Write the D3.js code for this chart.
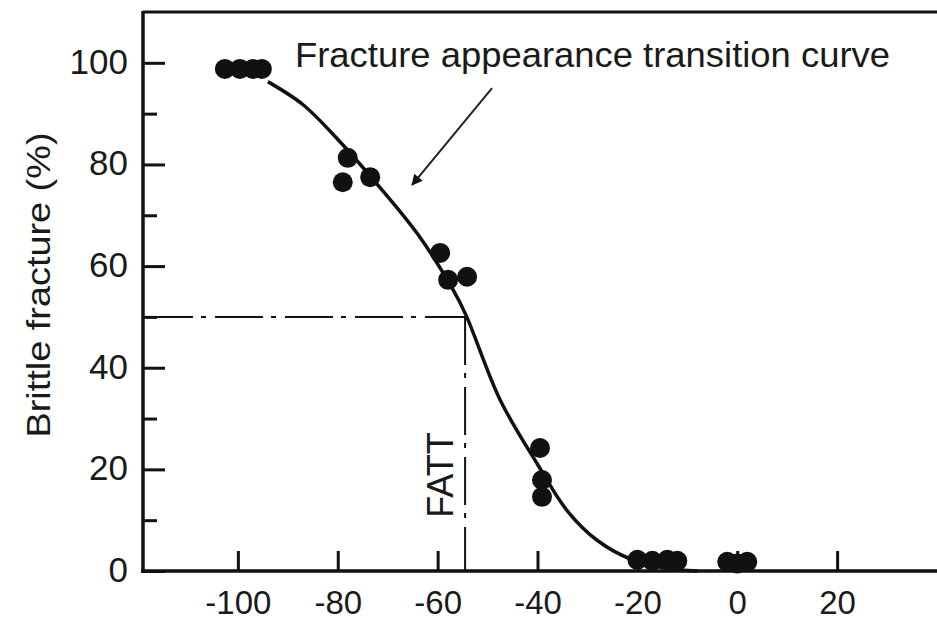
<!DOCTYPE html>
<html>
<head>
<meta charset="utf-8">
<script src="https://cdn.jsdelivr.net/npm/d3@7"></script>
<style>
  body { margin: 0; background: #fff; }
  svg { display: block; }
  text { font-family: "Liberation Sans", Arial, sans-serif; fill: #1a1a1a; }
</style>
</head>
<body>
<script>
// measured points, temperature (C) vs brittle fracture (%)
var tempPts    = [-102.6, -99.6, -97.0, -95.2, -78.0, -79.0, -73.5, -59.5, -57.9, -54.1, -39.5, -39.1, -39.1, -20.0, -17.0, -14.0, -12.0, -2.0, 0.0, 2.0];
var brittlePts = [98.8, 98.8, 98.8, 98.8, 81.3, 76.5, 77.5, 62.6, 57.3, 57.9, 24.2, 17.9, 14.6, 2.2, 2.0, 2.2, 2.0, 1.8, 1.5, 1.8];

// fitted transition curve
var curveTemp    = [-94, -87, -81, -72, -64, -57, -54.3, -47.5, -40, -34, -28, -21, -14, -8];
var curveBrittle = [96.3, 91.8, 86.0, 76.0, 66.3, 55.5, 50.3, 33.7, 21, 11.8, 6, 2.2, 0.5, 0];

var xTicks = [-100, -80, -60, -40, -20, 0, 20];
var yTicks = [0, 20, 40, 60, 80, 100];
var yMinor = [10, 30, 50, 70, 90];

var fatt = -54.5;
var fattLevel = 50;
var arrowFrom = [-49.1, 95.0];
var arrowTo   = [-65.1, 76.0];

var W = 937, H = 620;
var svg = d3.select("body").append("svg").attr("width", W).attr("height", H);

var x = d3.scaleLinear().domain([-119, 40]).range([143, 937]);
var y = d3.scaleLinear().domain([0, 110]).range([571, 12]);

// arrow head
svg.append("defs").append("marker")
    .attr("id", "head")
    .attr("viewBox", "0 0 10 10")
    .attr("refX", 9).attr("refY", 5)
    .attr("markerWidth", 17).attr("markerHeight", 11)
    .attr("markerUnits", "userSpaceOnUse")
    .attr("orient", "auto")
  .append("path")
    .attr("d", "M0,0 L10,5 L0,10 Z")
    .attr("fill", "#111");

// frame top
svg.append("line")
    .attr("x1", 143).attr("x2", W)
    .attr("y1", 12).attr("y2", 12)
    .attr("stroke", "#111").attr("stroke-width", 3);

// y axis, ticks pointing inward
var yAxis = svg.append("g")
    .attr("transform", "translate(143,0)")
    .call(d3.axisLeft(y).tickValues(yTicks).tickSizeInner(-22).tickSizeOuter(0).tickPadding(15).tickFormat(d3.format("d")));
yAxis.select(".domain").remove();
yAxis.selectAll(".tick line").attr("stroke", "#111").attr("stroke-width", 3);
yAxis.selectAll(".tick text").attr("font-size", 35).attr("dy", "0.3em").style("font-family", null);

var yMin = svg.append("g")
    .attr("transform", "translate(143,0)")
    .call(d3.axisLeft(y).tickValues(yMinor).tickSizeInner(-14).tickSizeOuter(0).tickFormat(""));
yMin.select(".domain").remove();
yMin.selectAll(".tick line").attr("stroke", "#111").attr("stroke-width", 3);

// x axis
var xAxis = svg.append("g")
    .attr("transform", "translate(0,571)")
    .call(d3.axisBottom(x).tickValues(xTicks).tickSizeInner(-20).tickSizeOuter(0).tickPadding(12).tickFormat(d3.format("d")));
xAxis.select(".domain").remove();
xAxis.selectAll(".tick line").attr("stroke", "#111").attr("stroke-width", 3);
xAxis.selectAll(".tick text").attr("font-size", 33).attr("dy", "0.95em").style("font-family", null);
xAxis.selectAll(".tick text").text(function(d){ return d < 0 ? "-" + (-d) : d; });

// axis lines
svg.append("line")
    .attr("x1", 143).attr("x2", 143).attr("y1", 11).attr("y2", 573)
    .attr("stroke", "#111").attr("stroke-width", 3.5);
svg.append("line")
    .attr("x1", 141).attr("x2", W).attr("y1", 571).attr("y2", 571)
    .attr("stroke", "#111").attr("stroke-width", 3.5);

// FATT guides
var dash = "48,8,5,9";
svg.append("line")
    .attr("x1", 145).attr("x2", x(fatt))
    .attr("y1", y(fattLevel)).attr("y2", y(fattLevel))
    .attr("stroke", "#111").attr("stroke-width", 2).attr("stroke-dasharray", dash);
svg.append("line")
    .attr("x1", x(fatt)).attr("x2", x(fatt))
    .attr("y1", y(fattLevel)).attr("y2", 571)
    .attr("stroke", "#111").attr("stroke-width", 2).attr("stroke-dasharray", dash);

svg.append("text")
    .attr("transform", "translate(" + (x(fatt) - 25) + ",475) rotate(-90)")
    .attr("text-anchor", "middle")
    .attr("dominant-baseline", "central")
    .attr("font-size", 36)
    .text("FATT");

// transition curve
var curveData = curveTemp.map(function(t, i){ return [t, curveBrittle[i]]; });
svg.append("path")
    .datum(curveData)
    .attr("fill", "none")
    .attr("stroke", "#111")
    .attr("stroke-width", 3.5)
    .attr("d", d3.line().x(function(d){ return x(d[0]); }).y(function(d){ return y(d[1]); }).curve(d3.curveCatmullRom.alpha(0.5)));

// points
svg.selectAll("circle.pt")
    .data(tempPts.map(function(t, i){ return [t, brittlePts[i]]; }))
    .enter().append("circle")
    .attr("class", "pt")
    .attr("cx", function(d){ return x(d[0]); })
    .attr("cy", function(d){ return y(d[1]); })
    .attr("r", 10)
    .attr("fill", "#111");

// annotation
svg.append("text")
    .attr("x", 295).attr("y", 67)
    .attr("font-size", 35)
    .attr("textLength", 595)
    .attr("lengthAdjust", "spacingAndGlyphs")
    .text("Fracture appearance transition curve");

svg.append("line")
    .attr("x1", x(arrowFrom[0])).attr("y1", y(arrowFrom[1]))
    .attr("x2", x(arrowTo[0])).attr("y2", y(arrowTo[1]))
    .attr("stroke", "#222").attr("stroke-width", 2)
    .attr("marker-end", "url(#head)");

// y title
svg.append("text")
    .attr("transform", "translate(38,285) rotate(-90)")
    .attr("text-anchor", "middle")
    .attr("dominant-baseline", "central")
    .attr("font-size", 33)
    .attr("textLength", 305)
    .attr("lengthAdjust", "spacingAndGlyphs")
    .text("Brittle fracture (%)");
</script>
</body>
</html>
